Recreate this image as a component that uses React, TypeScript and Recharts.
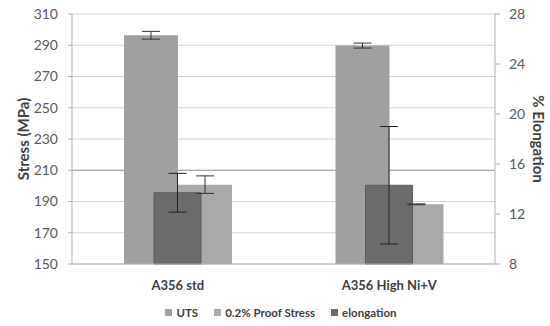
import React from "react";
import {
  Bar,
  BarChart,
  CartesianGrid,
  ErrorBar,
  Legend,
  XAxis,
  YAxis,
} from "recharts";

const categories = ["A356 std", "A356 High Ni+V"];
const uts = [296.4, 289.8];
const utsErr = [2.5, 1.6];
const proofStress = [200.8, 188.2];
const proofStressErr = [5.6, 0.3];
const elongation = [13.7, 14.3];
const elongationErr = [1.55, 4.7];

const stressTicks = [150, 170, 190, 210, 230, 250, 270, 290, 310];
const elongationTicks = [8, 12, 16, 20, 24, 28];

const data = categories.map((alloy, i) => ({
  alloy,
  uts: uts[i],
  utsErr: utsErr[i],
  proof: proofStress[i],
  proofErr: proofStressErr[i],
  elongation: elongation[i],
  elongationErr: elongationErr[i],
}));

const FONT = "Lato, 'Open Sans', sans-serif";
const C_UTS = "#a0a0a0";
const C_PROOF = "#a9a9a9";
const C_ELONG = "#6b6b6b";

const legendItems = [
  { label: "UTS", color: C_UTS },
  { label: "0.2% Proof Stress", color: C_PROOF },
  { label: "elongation", color: C_ELONG },
];

function ChartLegend() {
  return (
    <div
      style={{
        display: "flex",
        justifyContent: "center",
        gap: 16,
        height: 24,
        alignItems: "center",
        paddingLeft: 12,
        fontFamily: FONT,
        fontWeight: 700,
        fontSize: 11.5,
        color: "#404040",
      }}
    >
      {legendItems.map((it) => (
        <span key={it.label} style={{ display: "flex", alignItems: "center" }}>
          <span
            style={{
              width: 7,
              height: 7,
              background: it.color,
              marginRight: 4,
              display: "inline-block",
            }}
          />
          {it.label}
        </span>
      ))}
    </div>
  );
}

// Excel draws the 210 gridline darker than the rest
function GridLine(props: any) {
  const { x1, x2, y1, y2, index } = props;
  return (
    <line
      x1={x1}
      x2={x2}
      y1={y1}
      y2={y2}
      stroke={index === 3 ? "#8c8c8c" : "#d4d4d4"}
      strokeWidth={1}
    />
  );
}

export default function App() {
  return (
    <div style={{ position: "absolute", left: 0, top: 0, background: "#fff" }}>
      <BarChart
        width={550}
        height={326}
        data={data}
        margin={{ top: 14, right: 0, bottom: 2, left: 0 }}
        barGap={0}
      >
        <CartesianGrid
          xAxisId="main"
          yAxisId="stress"
          vertical={false}
          horizontal={(p: any) => <GridLine key={p.key ?? p.index} {...p} />}
        />
        <XAxis
          xAxisId="main"
          dataKey="alloy"
          height={36}
          axisLine={{ stroke: "#b0b0b0" }}
          tickLine={false}
          tick={{ fontFamily: FONT, fontWeight: 700, fontSize: 13, fill: "#404040" }}
          tickMargin={11}
        />
        <XAxis xAxisId="el" dataKey="alloy" hide height={0} />
        <YAxis
          yAxisId="stress"
          orientation="left"
          width={72}
          domain={[150, 310]}
          ticks={stressTicks}
          interval={0}
          axisLine={{ stroke: "#b0b0b0" }}
          tickLine={{ stroke: "#b0b0b0" }}
          tickSize={4}
          tickMargin={10}
          tick={{ fontFamily: FONT, fontSize: 14, fill: "#595959" }}
          label={{
            value: "Stress (MPa)",
            angle: -90,
            position: "insideLeft",
            offset: 24,
            style: {
              fontFamily: FONT,
              fontWeight: 700,
              fontSize: 15,
              fill: "#404040",
              textAnchor: "middle",
            },
          }}
        />
        <YAxis
          yAxisId="elong"
          orientation="right"
          width={55}
          domain={[8, 28]}
          ticks={elongationTicks}
          interval={0}
          axisLine={{ stroke: "#b0b0b0" }}
          tickLine={{ stroke: "#b0b0b0" }}
          tickSize={5}
          tickMargin={9}
          tick={{ fontFamily: FONT, fontSize: 14, fill: "#595959" }}
          label={{
            value: "% Elongation",
            angle: 90,
            position: "insideRight",
            offset: 12,
            style: {
              fontFamily: FONT,
              fontWeight: 700,
              fontSize: 15,
              fill: "#404040",
              textAnchor: "middle",
            },
          }}
        />
        <Legend verticalAlign="bottom" height={24} content={() => <ChartLegend />} />
        <Bar
          xAxisId="main"
          yAxisId="stress"
          dataKey="uts"
          name="UTS"
          fill={C_UTS}
          barSize={54}
          isAnimationActive={false}
        >
          <ErrorBar dataKey="utsErr" width={9} stroke="#333" strokeWidth={1} direction="y" />
        </Bar>
        <Bar
          xAxisId="main"
          yAxisId="stress"
          dataKey="proof"
          name="0.2% Proof Stress"
          fill={C_PROOF}
          barSize={54}
          isAnimationActive={false}
        >
          <ErrorBar dataKey="proofErr" width={9} stroke="#333" strokeWidth={1} direction="y" />
        </Bar>
        <Bar
          xAxisId="el"
          yAxisId="elong"
          dataKey="elongation"
          name="elongation"
          fill={C_ELONG}
          stroke="#5c5c5c"
          barSize={47}
          isAnimationActive={false}
        >
          <ErrorBar dataKey="elongationErr" width={9} stroke="#222" strokeWidth={1} direction="y" />
        </Bar>
      </BarChart>
    </div>
  );
}
